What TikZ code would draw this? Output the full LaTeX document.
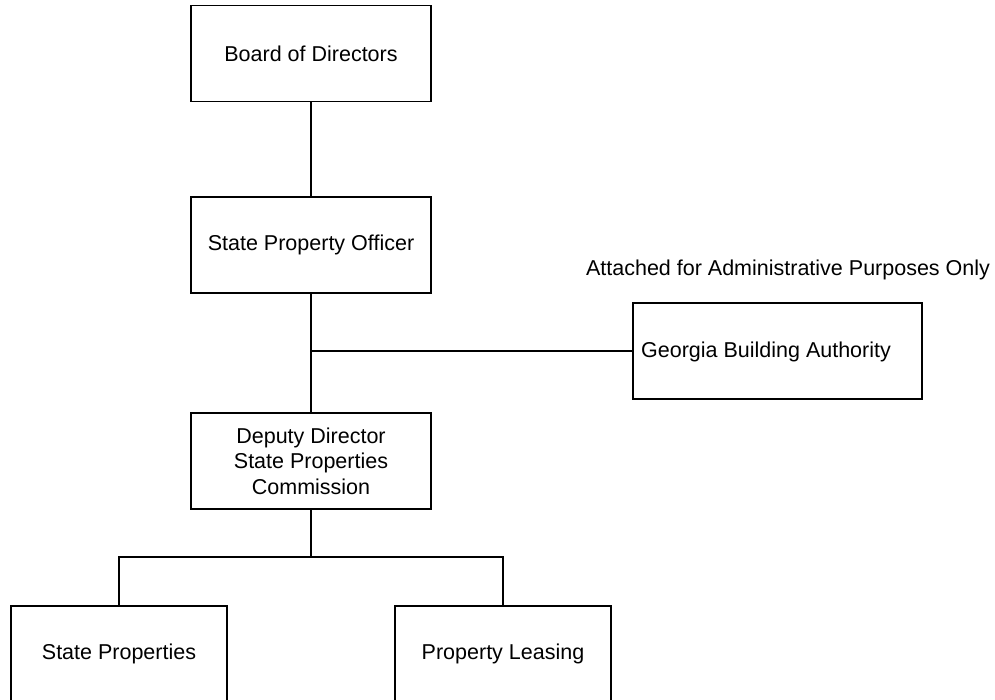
\documentclass[tikz,border=0pt]{standalone}
\usepackage{fontspec}
\setmainfont{Liberation Sans}
\begin{document}
\begin{tikzpicture}[x=1pt,y=-1pt,
  every node/.style={font=\fontsize{21.5}{25.5}\selectfont, inner sep=0pt},
  box/.style={draw=black, line width=1.6pt, fill=white, minimum width=240pt, minimum height=96pt, align=center},
  conn/.style={draw=black, line width=1.6pt}]
\useasboundingbox (0,0) rectangle (995,699);
\node[box] (bod) at (311,53.5) {Board of Directors};
\node[box] (spo) at (311,245) {State Property Officer};
\node[box] (dd) at (311,461) {Deputy Director\\State Properties\\Commission};
\node[box, minimum width=289pt] (gba) at (777.5,351) {};
\node (gbatext) at (766,352) {Georgia Building Authority};
\node (att) at (788,270) {Attached for Administrative Purposes Only};
\node[box, minimum width=216pt] (sp) at (119,654) {State Properties};
\node[box, minimum width=216pt] (pl) at (503,654) {Property Leasing};
\coordinate (j1) at (311,351);
\coordinate (bus) at (311,557);
\draw[conn] (bod.south) -- (spo.north);
\draw[conn] (spo.south) -- (dd.north);
\draw[conn] (j1) -- (gba.west);
\draw[conn] (dd.south) -- (bus);
\draw[conn] (sp.north) |- (bus) -| (pl.north);
\end{tikzpicture}
\end{document}
